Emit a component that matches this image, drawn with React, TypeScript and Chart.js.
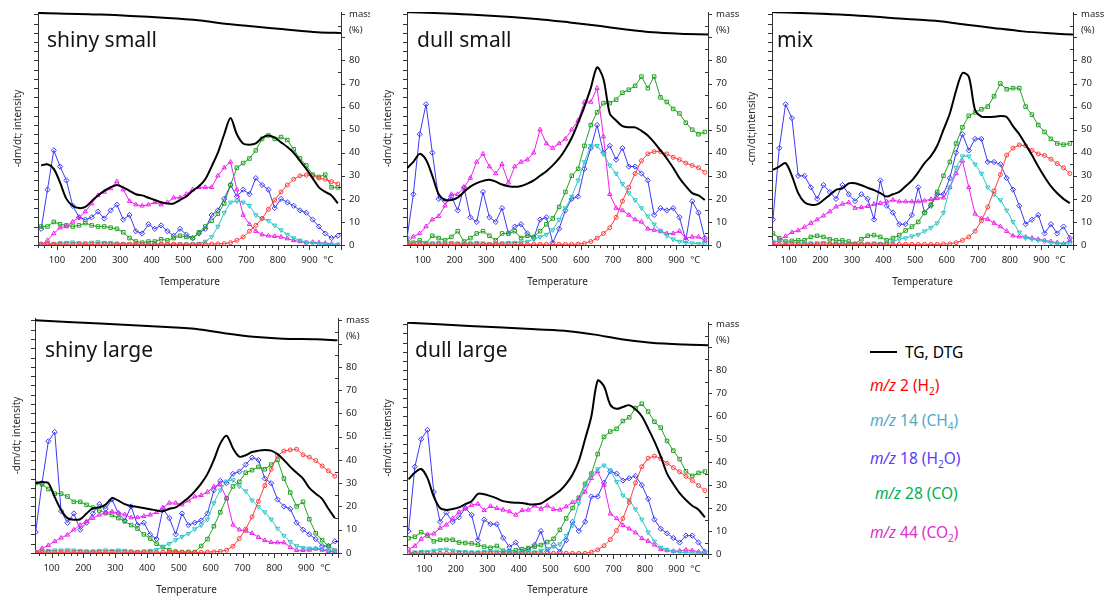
import React, { useEffect, useRef } from 'react';
import { Chart, registerables } from 'chart.js';

Chart.register(...registerables);

// ---------- shared temperature grid (°C) ----------
const TEMPS = [50, 70, 90, 110, 130, 150, 170, 190, 210, 230, 250, 270, 290, 310, 330, 350, 370, 390, 410, 430, 450, 470, 490, 510, 530, 550, 570, 590, 610, 630, 650, 670, 690, 710, 730, 750, 770, 790, 810, 830, 850, 870, 890, 910, 930, 950, 970, 990];

// ---------- shiny small ----------
const SS_DTG = [34.5, 35, 33, 27, 20, 17, 16, 16.5, 19, 21.5, 23.5, 25, 26, 25, 23.5, 22, 21.5, 20.5, 19.5, 18.5, 18, 18, 19.5, 21, 23.5, 25.5, 28.5, 34, 40, 48, 55, 48, 44, 43.5, 44, 46.5, 47.5, 46.5, 44.5, 42.5, 40, 36.5, 33, 29, 25, 23, 21.5, 18];
const SS_H2 = [0.5, 0.3, 0.3, 0.4, 0.3, 0.3, 0.4, 0.3, 0.3, 0.3, 0.4, 0.3, 0.3, 0.3, 0.3, 0.3, 0.3, 0.3, 0.3, 0.3, 0.3, 0.3, 0.3, 0.3, 0.3, 0.3, 0.4, 0.4, 0.5, 0.6, 1, 2, 3.5, 6, 8.5, 11.5, 15.5, 19.5, 23, 26, 28.5, 30, 30.3, 30, 29, 28.5, 27.5, 26.5];
const SS_CH4 = [0.3, 0.8, 0.6, 0.9, 1, 1.2, 0.9, 0.8, 1.1, 1.3, 1, 1, 0.7, 0.6, 0.5, 0.4, 0.3, 0.3, 0.3, 0.4, 0.3, 0.3, 0.4, 0.3, 0.4, 0.6, 1.5, 3.5, 8, 14, 18.5, 19, 18.5, 17, 13, 11.5, 10.5, 8.5, 6.5, 4.5, 3, 2, 1.2, 0.8, 0.5, 0.3, 0.2, 0.2];
const SS_H2O = [7, 24, 41, 34, 28, 17, 12, 11, 12, 14.5, 11.5, 15, 17.5, 11, 13, 6, 5, 9, 7, 8.5, 6, 4, 7, 4.5, 3, 5, 7, 13, 15, 20, 26, 21, 24, 22, 29, 26, 24, 16, 20, 18.5, 17, 15, 14, 11, 8, 5, 3, 4];
const SS_CO = [8, 8, 10, 9, 8.5, 8, 8.5, 9.5, 8.5, 8, 8, 7.5, 7, 5.5, 3, 1.5, 1, 1.5, 1.5, 2.5, 2, 3, 4, 3.5, 3, 5.5, 8, 10.5, 13.5, 18, 26, 33.5, 35.5, 37.5, 41, 46, 47.5, 46, 46.8, 45.5, 41.5, 37.5, 34.5, 30.5, 29.5, 30.5, 25, 25];
const SS_CO2 = [0, 2, 5, 7.5, 8, 10, 12, 14.5, 18, 21.5, 23, 24.5, 27.5, 24, 19, 17.5, 17, 17.5, 18.5, 17.5, 18.5, 20.5, 20.5, 22, 24, 25, 25, 25, 30, 33.5, 36, 24, 13, 9, 6, 4.5, 4, 3.8, 3.5, 2.8, 2, 1.5, 1, 1.2, 1, 0.8, 0.5, 0];
const SS_TG_T = [42, 238, 450, 555, 640, 725, 820, 926, 1000];
const SS_TG = [100.6, 99.9, 98.4, 97.3, 95.8, 94.7, 93.5, 92.2, 91.9];

// ---------- dull small ----------
const DS_DTG = [33.3, 36, 39.5, 37, 30, 22, 19.5, 19.5, 20.5, 23, 25.3, 26.8, 27.8, 28.3, 27.5, 26.2, 25.5, 25.2, 25.6, 26.6, 28, 30, 32, 34.5, 37.5, 41.5, 46.5, 53, 60, 68, 77, 72, 57, 54, 51.5, 51, 51, 49.5, 47.5, 44.5, 41, 37.5, 33.5, 29, 25.5, 22.5, 21.5, 19.5];
const DS_H2 = [0.3, 0.2, 0.3, 0.2, 0.3, 0.3, 0.2, 0.3, 0.3, 0.2, 0.3, 0.3, 0.3, 0.2, 0.3, 0.3, 0.3, 0.3, 0.2, 0.3, 0.3, 0.3, 0.3, 0.3, 0.3, 0.3, 0.3, 0.4, 0.7, 1.5, 3, 5, 7.5, 12, 19, 25, 31, 36.5, 39.5, 40.5, 40.5, 39.5, 38, 37, 35.5, 34.5, 33.5, 31.5];
const DS_CH4 = [0.5, 0.8, 1, 1, 0.8, 1, 0.8, 1, 0.8, 0.7, 0.8, 1, 0.8, 0.6, 0.7, 0.8, 1, 1, 1.2, 1.5, 2.5, 3.5, 4.5, 6.5, 11, 16, 21, 28, 36, 43, 43, 39.5, 34.5, 31, 26.5, 22.5, 19.5, 16, 12.5, 9, 6, 4, 2.5, 1.5, 1, 0.8, 0.5, 0.5];
const DS_H2O = [3, 22, 48, 61, 40, 20, 19, 21, 15, 25, 12, 10, 23, 12, 10, 16, 5, 8, 9, 5, 3, 11, 12, 1, 7, 15, 20, 21, 33, 42, 52, 40, 43, 37, 42, 34, 34, 31, 28, 13, 16, 15, 16, 12, 2, 19, 14, 3];
const DS_CO = [1.5, 1, 2, 0.8, 4, 3, 2, 3.5, 6, 1.5, 3, 5, 6, 4, 2, 5, 5, 6, 3, 4, 3.5, 6, 9, 11.5, 16.5, 23, 30, 33, 43, 52, 57.5, 61.5, 61.5, 63, 66, 67.3, 69, 73, 68, 73, 64, 62, 59, 57, 53, 50, 48, 49];
const DS_CO2 = [0.7, 3.6, 5, 8, 11, 12.5, 17, 22, 22, 25, 29, 36, 39.5, 34, 31, 35, 27, 34, 36, 37, 40, 50, 44, 42, 44, 46, 50, 54, 62, 62, 68, 47, 22, 16, 15, 13, 11, 10, 7, 6.5, 6, 5, 5, 6, 3, 3.5, 3.5, 2];
const DS_TG_T = [50, 247, 458, 563, 647, 731, 826, 932, 1000];
const DS_TG = [101, 99.9, 98, 96.5, 95.1, 93.6, 92.2, 91.5, 91.2];

// ---------- mix ----------
const MX_DTG = [32.6, 34, 35.5, 30, 22.5, 18.5, 17.4, 17.6, 19.5, 21.7, 23.9, 24.6, 26.7, 26.8, 25.9, 24.8, 23.8, 22.5, 21, 22, 23, 25.5, 28, 31.5, 35.5, 38.5, 43, 50, 57, 67, 74.5, 73, 58.5, 55.7, 55.5, 55.6, 55.9, 55.5, 51.5, 48, 43.5, 39, 34, 29.5, 25.5, 22.4, 20, 18.1];
const MX_H2 = [0.3, 0.3, 0.2, 0.3, 0.3, 0.3, 0.2, 0.3, 0.3, 0.3, 0.3, 0.3, 0.3, 0.3, 0.2, 0.3, 0.3, 0.3, 0.3, 0.3, 0.3, 0.3, 0.3, 0.3, 0.3, 0.3, 0.3, 0.4, 0.5, 1, 2, 3.5, 6, 10.5, 16.5, 23.5, 30.5, 39, 42, 43.4, 43, 41, 39.5, 38.8, 37.2, 35.3, 33.5, 31];
const MX_CH4 = [1.5, 1.5, 1.2, 1, 1, 0.8, 0.8, 0.8, 1, 0.8, 0.6, 0.6, 0.8, 0.6, 0.5, 0.6, 0.8, 0.6, 0.8, 1.5, 2.5, 3, 3.8, 4.5, 6, 7.5, 9.5, 14, 25, 33.5, 38.5, 38.5, 35, 31, 25, 22, 19.5, 15, 10, 5.5, 3, 2.5, 2, 1.5, 1, 0.6, 0.5, 0.5];
const MX_H2O = [11, 42, 61, 55, 30, 30, 25, 20, 26, 23, 20, 26, 22, 19, 22, 20, 11, 28, 17, 14, 9, 9, 13, 25, 14, 17, 22, 22, 29, 40, 48, 41, 46, 46, 36, 36, 35, 29, 24, 17, 9, 11, 13, 5, 9, 5, 8, 3];
const MX_CO = [5, 3, 1.5, 1.8, 2, 2, 3.5, 4, 3.5, 2.5, 2, 2, 1.5, 0.5, 2.5, 4, 4.3, 3.5, 2, 3, 4.3, 6.3, 8, 10, 14, 17.5, 23, 30, 36, 44, 51, 56, 57.5, 58.8, 60, 64.5, 70, 67.5, 68, 68, 60, 56.5, 52, 49, 46, 44, 43.5, 44];
const MX_CO2 = [0.7, 2, 3.8, 5.5, 6.3, 7.8, 9.5, 11, 12.7, 14.5, 16.6, 17.8, 18.4, 16, 16.3, 16.8, 17.7, 18.1, 18.8, 19.5, 18.8, 18.8, 18.8, 18.8, 19.2, 19.8, 20.3, 20.5, 25, 31, 36.5, 25, 13.5, 11.5, 11.2, 9.5, 8, 6, 4, 3.6, 3.5, 3, 2.5, 2, 1.5, 1, 0.5, 2];
const MX_TG_T = [47, 261, 473, 578, 663, 747, 842, 948, 1000];
const MX_TG = [101, 99.9, 98, 97, 95.5, 94.1, 92.6, 91.6, 91.2];

// ---------- shiny large ----------
const SL_DTG = [30, 30.5, 30, 24, 18.5, 15, 14.3, 14.5, 17, 19.3, 19.6, 20.8, 23.6, 22.5, 21, 20.2, 19.8, 19.3, 18.8, 18.3, 17.9, 19, 19.6, 21.6, 23.7, 26.5, 29.8, 34, 40, 47, 50.4, 45, 41.4, 42, 43.4, 44, 44.3, 44, 42.5, 40, 37, 34.5, 32, 28, 25.5, 23.3, 19, 15];
const SL_H2 = [0.3, 0.3, 0.4, 0.3, 0.3, 0.4, 0.3, 0.3, 0.3, 0.4, 0.3, 0.3, 0.3, 0.4, 0.3, 0.3, 0.3, 0.3, 0.4, 0.3, 0.3, 0.3, 0.3, 0.3, 0.4, 0.3, 0.3, 0.4, 0.5, 0.7, 1.2, 2.9, 6.2, 10.3, 15.5, 22.2, 29, 36, 41.8, 43.8, 44.3, 44.6, 42.2, 41.2, 39.7, 37.4, 35.3, 33];
const SL_CH4 = [0.5, 0.8, 1, 1.2, 1.2, 1.3, 1.2, 1, 0.8, 0.8, 1, 1.2, 1, 1.2, 1, 0.8, 0.6, 0.8, 1, 1.4, 2.8, 4, 5.6, 7, 8.3, 10.3, 12, 14.5, 21.5, 27, 30.8, 31.4, 28.7, 26.6, 22.7, 19.8, 17.6, 14.5, 10.5, 7.5, 4.8, 3, 2.2, 2, 2, 1.8, 1.2, 0.8];
const SL_H2O = [9, 30, 48, 52, 18, 13, 17, 10, 13, 17, 21, 19, 23, 17, 14, 20, 12, 13, 8, 6, 19, 15, 8, 17, 12, 13, 14, 17, 27, 31, 30, 34, 35, 38, 41, 40, 32, 30, 23, 20, 19, 13, 10, 8, 6, 3, 3, 5];
const SL_CO = [30, 29.5, 27.5, 25.5, 25.5, 24.3, 22, 22, 20.7, 19.5, 18.3, 17.1, 16.4, 15, 13.6, 12, 10.5, 8, 6.2, 4, 2.5, 1.2, 0.6, 0.4, 0.4, 0.4, 3, 6, 11.5, 17.5, 23.5, 28.6, 30.6, 34.5, 35.6, 37, 36, 38, 40, 32, 26, 20, 22, 14.5, 8.5, 5.5, 3, 1];
const SL_CO2 = [0.3, 2, 3.3, 5, 6.5, 7.8, 10, 12, 13.6, 15, 16.4, 17.3, 17.8, 17.2, 16.5, 15.2, 15.3, 15.8, 16.4, 17.5, 19.5, 21.5, 21.5, 20.8, 22.5, 24.2, 24.8, 26.2, 28.5, 29.3, 23.5, 12.1, 10, 9.5, 8.5, 6.8, 5.4, 4.6, 4.5, 4.5, 2.5, 1.2, 1.2, 1.3, 1.8, 1.3, 0.8, 0.3];
const SL_TG_T = [48, 252, 461, 565, 649, 733, 827, 932, 998];
const SL_TG = [100, 98.6, 97.1, 96.1, 94.3, 92.9, 92.1, 91.9, 91.4];

// ---------- dull large ----------
const DL_DTG = [32.5, 35.5, 37, 33, 25, 20, 19.2, 19.6, 20.3, 21.7, 23, 26.2, 26, 25.2, 24.2, 23, 22.5, 22.3, 22.2, 21.7, 21.6, 22, 23.7, 25.5, 27.5, 30.5, 34.5, 40.5, 50, 60, 75.5, 73, 65, 63.2, 64, 64.8, 63, 60, 54.7, 49, 42.5, 35, 30.5, 26.5, 23.5, 21, 19.3, 16];
const DL_H2 = [0.3, 0.3, 0.3, 0.2, 0.3, 0.3, 0.3, 0.3, 0.3, 0.2, 0.3, 0.3, 0.3, 0.3, 0.3, 0.3, 0.3, 0.3, 0.3, 0.2, 0.3, 0.3, 0.3, 0.3, 0.3, 0.3, 0.3, 0.3, 0.3, 0.8, 1.8, 3.6, 6.3, 10.2, 15.5, 22.5, 31, 38, 41.7, 42.6, 41.6, 39.5, 37.6, 35.8, 33.8, 32, 29.8, 27.6];
const DL_CH4 = [0.5, 0.8, 1, 1, 1.5, 1.8, 2, 1.5, 1, 1, 0.8, 0.8, 1, 1, 1.2, 1, 1, 0.8, 0.8, 1, 0.8, 1.5, 2.4, 3.2, 4.3, 8, 12.5, 22, 30, 34.5, 37, 38.6, 36.5, 31.5, 25.5, 23.5, 19.5, 15, 9.5, 5.5, 2.8, 1.8, 1.2, 0.8, 0.6, 0.5, 0.4, 0.3];
const DL_H2O = [10, 38, 50, 54, 27, 14, 18, 14, 16, 20, 17, 6, 15, 13, 13, 7, 3, 5, 1, 2, 4, 10, 1, 4, 1, 6, 14, 10, 14, 25, 25, 31, 36, 35, 32, 33, 34, 30, 24, 15, 11, 9, 7, 5, 8, 8, 5, 1];
const DL_CO = [6.9, 7.5, 9.5, 8, 5.5, 6.2, 6.2, 6.2, 5, 4.8, 4.6, 4, 3.2, 2.7, 3.5, 1.4, 1.2, 1.6, 2.1, 2.6, 3.2, 3.9, 5.2, 6.6, 10.5, 15.5, 20, 24.5, 30.5, 35, 43.5, 51, 53.3, 54.5, 57.9, 59.5, 63.5, 65.4, 62, 57.6, 55, 49.2, 45, 41.3, 36, 34, 35.3, 35.9];
const DL_CO2 = [2, 3.5, 6.5, 8.5, 8.8, 11.3, 12.7, 15.5, 18.2, 19.8, 21.3, 21.8, 19, 20.8, 19.9, 19.2, 18.5, 17, 19, 19.2, 21, 19.6, 21, 19.5, 19.2, 20.6, 22.5, 24, 27, 33, 35.9, 30, 17.5, 15.5, 12.5, 11, 9.3, 6.8, 5.6, 4, 2, 1.6, 1.2, 1.4, 1.8, 1.5, 1, 0.4];
const DL_TG_T = [48, 243, 453, 558, 641, 725, 819, 924, 1000];
const DL_TG = [100.7, 99.3, 97.8, 97, 95.5, 93.5, 92, 91.2, 90.9];

// ---------- axis labels ----------
const X_TICK_LABELS = ['100', '200', '300', '400', '500', '600', '700', '800', '900'];
const Y_TICK_LABELS = ['0', '10', '20', '30', '40', '50', '60', '70', '80'];
const X_TITLE = 'Temperature';
const UNIT_LABEL = '°C';
const MASS_LABELS = ['mass', '(%)'];

// ---------- styles ----------
const FONT = '"Noto Sans", "DejaVu Sans", sans-serif';
const AXIS = '#333333';
const TEXT = '#262626';
const C_H2 = '#ff3c3c';
const C_CH4 = '#2cc6c6';
const C_H2O = '#3a3af5';
const C_CO = '#22a322';
const C_CO2 = '#f01ef0';

type Spec = {
  name: string; yTitle: string;
  dtg: number[]; h2: number[]; ch4: number[]; h2o: number[]; co: number[]; co2: number[];
  tgT: number[]; tg: number[];
  x: number; y: number; w: number; h: number;
  padTop: number; L: number; R: number; B: number; xMin: number;
  yTitlePad: number; xTitlePad: number; nameDx: number; nameDy: number;
};

const PANELS: Spec[] = [
  { name: 'shiny small', yTitle: '-dm/dt; intensity', dtg: SS_DTG, h2: SS_H2, ch4: SS_CH4, h2o: SS_H2O, co: SS_CO, co2: SS_CO2, tgT: SS_TG_T, tg: SS_TG,
    x: 0, y: 0, w: 370, h: 293, padTop: 12, L: 38, R: 29, B: 48, xMin: 40, yTitlePad: 12, xTitlePad: 5, nameDx: 9, nameDy: 35 },
  { name: 'dull small', yTitle: '-dm/dt; intensity', dtg: DS_DTG, h2: DS_H2, ch4: DS_CH4, h2o: DS_H2O, co: DS_CO, co2: DS_CO2, tgT: DS_TG_T, tg: DS_TG,
    x: 370, y: 0, w: 370, h: 293, padTop: 12, L: 37, R: 32, B: 48, xMin: 50, yTitlePad: 12, xTitlePad: 5, nameDx: 10, nameDy: 35 },
  { name: 'mix', yTitle: '-cm/dt;intensity', dtg: MX_DTG, h2: MX_H2, ch4: MX_CH4, h2o: MX_H2O, co: MX_CO, co2: MX_CO2, tgT: MX_TG_T, tg: MX_TG,
    x: 740, y: 0, w: 374, h: 293, padTop: 12, L: 32, R: 41, B: 48, xMin: 47, yTitlePad: 6, xTitlePad: 5, nameDx: 5, nameDy: 35 },
  { name: 'shiny large', yTitle: '-dm/dt; intensity', dtg: SL_DTG, h2: SL_H2, ch4: SL_CH4, h2o: SL_H2O, co: SL_CO, co2: SL_CO2, tgT: SL_TG_T, tg: SL_TG,
    x: 0, y: 304, w: 370, h: 296, padTop: 14, L: 35, R: 32, B: 47, xMin: 48, yTitlePad: 11.5, xTitlePad: 4, nameDx: 10, nameDy: 38.5 },
  { name: 'dull large', yTitle: '-dm/dt; intensity', dtg: DL_DTG, h2: DL_H2, ch4: DL_CH4, h2o: DL_H2O, co: DL_CO, co2: DL_CO2, tgT: DL_TG_T, tg: DL_TG,
    x: 370, y: 304, w: 370, h: 296, padTop: 18, L: 37, R: 32, B: 46, xMin: 45, yTitlePad: 12, xTitlePad: 4, nameDx: 8, nameDy: 34.7 },
];

const decorPlugin = {
  id: 'panelDecor',
  afterDraw(chart: any, _args: any, opts: any) {
    const { ctx, chartArea: a, scales } = chart;
    const xs = scales.x;
    const ys = scales.y;
    ctx.save();
    ctx.strokeStyle = AXIS;
    ctx.lineWidth = 1;
    ctx.beginPath();
    for (let v = Math.ceil(xs.min / 20) * 20; v <= xs.max; v += 20) {
      const px = Math.round(xs.getPixelForValue(v)) + 0.5;
      const len = v % 100 === 0 ? 5 : 3;
      ctx.moveTo(px, a.bottom);
      ctx.lineTo(px, a.bottom + len);
    }
    for (let v = 0; v <= 100; v += 4) {
      const py = Math.round(ys.getPixelForValue(v)) + 0.5;
      ctx.moveTo(a.left - 4, py);
      ctx.lineTo(a.left, py);
    }
    for (let v = 0; v <= 100; v += 5) {
      const py = Math.round(ys.getPixelForValue(v)) + 0.5;
      if (v % 10 === 0) {
        ctx.moveTo(a.right, py);
        ctx.lineTo(a.right + 4, py);
      } else {
        ctx.moveTo(a.right - 3, py);
        ctx.lineTo(a.right, py);
      }
    }
    ctx.stroke();
    ctx.fillStyle = TEXT;
    ctx.font = `9.5px ${FONT}`;
    ctx.textBaseline = 'middle';
    ctx.textAlign = 'left';
    ctx.fillText(MASS_LABELS[0], a.right + 8, ys.getPixelForValue(100));
    ctx.fillText(MASS_LABELS[1], a.right + 8, ys.getPixelForValue(93));
    ctx.textAlign = 'center';
    ctx.fillText(UNIT_LABEL, xs.getPixelForValue(960), a.bottom + 15.5);
    ctx.fillStyle = '#141414';
    ctx.font = `21px ${FONT}`;
    ctx.textAlign = 'left';
    ctx.textBaseline = 'alphabetic';
    ctx.fillText(opts.name, a.left + opts.nameDx, a.top + opts.nameDy);
    ctx.restore();
  },
};

function series(label: string, xs: number[], ys: number[], color: string, style: string, radius: number, rotation = 0) {
  return {
    label,
    data: xs.map((t, i) => ({ x: t, y: ys[i] })),
    borderColor: color,
    borderWidth: 1,
    pointStyle: style,
    pointRadius: radius,
    pointRotation: rotation,
    pointBorderColor: color,
    pointBackgroundColor: 'rgba(255,255,255,0)',
    pointBorderWidth: 1,
    tension: 0,
  };
}

function makeConfig(p: Spec): any {
  const tickFont = { family: FONT, size: 9.5 };
  return {
    type: 'line',
    data: {
      datasets: [
        { label: 'DTG', data: TEMPS.map((t, i) => ({ x: t, y: p.dtg[i] })), borderColor: '#000', borderWidth: 2, pointRadius: 0, tension: 0.3 },
        { label: 'TG', data: p.tgT.map((t, i) => ({ x: t, y: p.tg[i] })), borderColor: '#000', borderWidth: 2, pointRadius: 0, tension: 0.3 },
        series('H2', TEMPS, p.h2, C_H2, 'circle', 2),
        series('CH4', TEMPS, p.ch4, C_CH4, 'triangle', 2.5, 180),
        series('CO2', TEMPS, p.co2, C_CO2, 'triangle', 2.5),
        series('CO', TEMPS, p.co, C_CO, 'rect', 2.5),
        series('H2O', TEMPS, p.h2o, C_H2O, 'rectRot', 2.6),
      ],
    },
    options: {
      responsive: false,
      maintainAspectRatio: false,
      animation: false,
      events: [],
      layout: { padding: { top: p.padTop, left: 0, right: 0, bottom: 0 } },
      plugins: {
        legend: { display: false },
        tooltip: { enabled: false },
        panelDecor: { name: p.name, nameDx: p.nameDx, nameDy: p.nameDy },
      },
      scales: {
        x: {
          type: 'linear', position: 'bottom', min: p.xMin, max: 1000,
          afterFit: (s: any) => { s.height = p.B; },
          grid: { display: true, drawOnChartArea: false, drawTicks: true, tickLength: 6, color: 'rgba(0,0,0,0)' },
          border: { display: true, color: AXIS, width: 1 },
          ticks: {
            stepSize: 100, autoSkip: false, maxRotation: 0, padding: 4, color: TEXT, font: tickFont, includeBounds: false,
            callback: (v: number) => (v % 100 === 0 && v >= 100 && v <= 900 ? X_TICK_LABELS[v / 100 - 1] : ''),
          },
          title: { display: true, text: X_TITLE, color: TEXT, font: { family: FONT, size: 10 }, padding: { top: 0, bottom: p.xTitlePad } },
        },
        y: {
          type: 'linear', position: 'right', min: 0, max: 101,
          afterFit: (s: any) => { s.width = p.R; },
          grid: { display: true, drawOnChartArea: false, drawTicks: true, tickLength: 5, color: 'rgba(0,0,0,0)' },
          border: { display: true, color: AXIS, width: 1 },
          ticks: {
            stepSize: 10, padding: 3, color: TEXT, font: tickFont,
            callback: (v: number) => (v % 10 === 0 && v <= 80 ? Y_TICK_LABELS[v / 10] : ''),
          },
        },
        yL: {
          type: 'linear', position: 'left', min: 0, max: 101,
          afterFit: (s: any) => { s.width = p.L; },
          grid: { display: false, drawTicks: false },
          border: { display: true, color: AXIS, width: 1 },
          ticks: { display: false },
          title: { display: true, text: p.yTitle, color: TEXT, font: { family: FONT, size: 10 }, padding: { top: p.yTitlePad, bottom: 0 } },
        },
      },
    },
    plugins: [decorPlugin],
  };
}

function Panel({ spec }: { spec: Spec }) {
  const ref = useRef<HTMLCanvasElement | null>(null);
  useEffect(() => {
    const chart = new Chart(ref.current as HTMLCanvasElement, makeConfig(spec));
    return () => chart.destroy();
  }, [spec]);
  return (
    <canvas
      ref={ref}
      width={spec.w}
      height={spec.h}
      style={{ position: 'absolute', left: spec.x, top: spec.y, width: spec.w, height: spec.h }}
    />
  );
}

const LEGEND_ITEMS = [
  { formula: ['H', '2', ''], mz: '2', color: '#ff0000', top: 376, left: 870 },
  { formula: ['CH', '4', ''], mz: '14', color: '#4bacc6', top: 411, left: 870 },
  { formula: ['H', '2', 'O'], mz: '18', color: '#5b3cf5', top: 449, left: 870 },
  { formula: ['CO', '', ''], mz: '28', color: '#00b050', top: 484, left: 875 },
  { formula: ['CO', '2', ''], mz: '44', color: '#e02cd0', top: 523, left: 870 },
];

function Legend() {
  const base: React.CSSProperties = { position: 'absolute', fontFamily: FONT, fontSize: 15.5, lineHeight: '18px', whiteSpace: 'nowrap' };
  return (
    <>
      <div style={{ position: 'absolute', left: 870, top: 351, width: 27, height: 2, background: '#000' }} />
      <div style={{ ...base, left: 905, top: 343, color: '#000' }}>TG, DTG</div>
      {LEGEND_ITEMS.map((it) => (
        <div key={it.mz} style={{ ...base, left: it.left, top: it.top, color: it.color }}>
          <i>m/z</i> {it.mz} ({it.formula[0]}
          {it.formula[1] ? <span style={{ fontSize: 10, position: 'relative', top: 4 }}>{it.formula[1]}</span> : null}
          {it.formula[2]})
        </div>
      ))}
    </>
  );
}

export default function App() {
  return (
    <div style={{ position: 'absolute', left: 0, top: 0, width: 1114, height: 600, overflow: 'hidden', background: '#fff' }}>
      {PANELS.map((p) => (
        <Panel key={p.name} spec={p} />
      ))}
      <Legend />
    </div>
  );
}
